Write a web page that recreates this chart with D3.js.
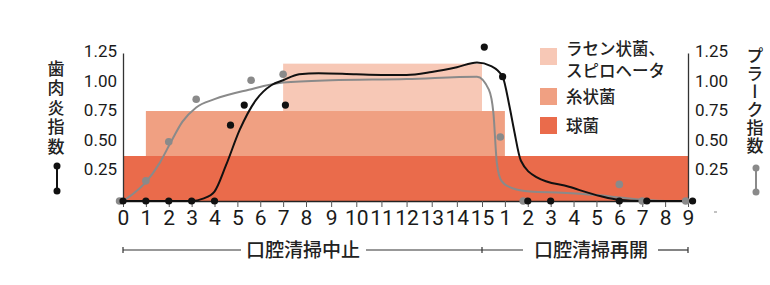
<!DOCTYPE html>
<html>
<head>
<meta charset="utf-8">
<script src="https://cdn.jsdelivr.net/npm/d3@7"></script>
<style>
  body { margin: 0; background: #fff; }
  svg { display: block; }
  .num { font-family: "Liberation Sans Narrow", "Roboto", sans-serif; }
  .jp { font-family: "Noto Sans CJK JP", sans-serif; font-weight: 500; }
</style>
</head>
<body>
<svg width="770" height="285"></svg>
<script>
// tick labels along the bottom: 0..15 weeks of no cleaning, then 1..9 after restart
var xTickLabels = ["0","1","2","3","4","5","6","7","8","9","10","11","12","13","14","15",
  "1","2","3","4","5","6","7","8","9"];
var yTicks = [0.25, 0.5, 0.75, 1.0, 1.25];

// bacteria bands: [start index, end index, level]
var bandNames = ["球菌", "糸状菌", "ラセン状菌、スピロヘータ"];
var bandRanges = [[0, 24, 0.38], [1, 16, 0.76], [7, 15, 1.16]];
var bandColors = ["#ea6b4b", "#f0a082", "#f7c8b6"];

// 歯肉炎指数 (black) observed points
var gingivaPts = [[0,0],[1,0],[2,0],[3,0],[4,0],[4.7,0.64],[5.3,0.81],[7.1,0.81],
  [15.1,1.30],[15.9,1.05],[17,0],[18,0],[21,0],[22.2,0],[24.2,0]];
// 歯肉炎指数 fitted curve
var gingivaCurve = [[0,0],[3,0],[3.5,0.02],[4,0.08],[4.5,0.3],[5.1,0.6],[5.8,0.85],
  [6.5,0.98],[7,1.02],[7.7,1.07],[8.5,1.08],[10,1.07],[11,1.065],[12,1.065],[13,1.09],
  [14,1.13],[14.8,1.17],[15.4,1.14],[15.9,1.05],[16.2,0.8],[16.4,0.6],[16.7,0.34],
  [17.4,0.2],[18.8,0.12],[20.2,0.04],[21,0.01],[22,0],[24.2,0]];

// プラーク指数 (gray) observed points
var plaquePts = [[-0.15,0],[1,0.17],[2,0.5],[3.2,0.86],[5.6,1.02],[7,1.07],
  [15.8,0.54],[16.8,0],[21,0.14],[22,0],[23.9,0]];
// プラーク指数 fitted curve
var plaqueCurve = [[0,0],[0.5,0.07],[1,0.16],[1.6,0.32],[2.1,0.5],[2.6,0.67],[3.2,0.79],
  [4,0.86],[5.5,0.94],[7,1.0],[9,1.02],[12,1.03],[14.8,1.05],[15.3,0.94],[15.5,0.74],
  [15.65,0.32],[15.85,0.17],[16.3,0.11],[17.1,0.08],[18.5,0.07],[20,0.05],[21,0.03],
  [22,0.01],[23,0]];

var svg = d3.select("svg");

var x = d3.scaleLinear().domain([0, 8, 15, 24]).range([123, 306, 482, 688]);
var y = d3.scaleLinear().domain([0, 1.25]).range([201, 53]);

// bands: tallest first so the lower ones sit on top
svg.append("g").selectAll("rect")
  .data(bandRanges.map((d, i) => ({ r: d, c: bandColors[i] })).reverse())
  .enter()
  .append("rect")
  .attr("x", (d) => x(d.r[0]))
  .attr("width", (d) => x(d.r[1]) - x(d.r[0]))
  .attr("y", (d) => y(d.r[2]))
  .attr("height", (d) => y(0) - y(d.r[2]))
  .attr("fill", (d) => d.c);

// axes
var leftAxis = svg.append("g")
  .attr("transform", "translate(" + x(0) + ",0)")
  .call(d3.axisLeft(y).tickValues(yTicks).tickSize(0).tickPadding(6)
    .tickFormat(d3.format(".2f")));
var rightAxis = svg.append("g")
  .attr("transform", "translate(" + x(24) + ",0)")
  .call(d3.axisRight(y).tickValues(yTicks).tickSize(0).tickPadding(7)
    .tickFormat(d3.format(".2f")));
[leftAxis, rightAxis].forEach((a) => {
  a.select(".domain").attr("stroke", "#333").attr("stroke-width", 1.3);
  a.selectAll("text").attr("class", "num").attr("font-size", 17).attr("fill", "#1a1a1a")
    .attr("dy", "0.2em");
});

var bottomAxis = svg.append("g")
  .attr("transform", "translate(0," + y(0) + ")")
  .call(d3.axisBottom(x).tickValues(d3.range(0, 25)).tickSizeInner(6).tickSizeOuter(0)
    .tickPadding(3).tickFormat((d) => xTickLabels[d]));
bottomAxis.select(".domain").attr("stroke", "#222").attr("stroke-width", 1.3);
bottomAxis.selectAll(".tick line").attr("stroke", "#555");
bottomAxis.selectAll("text").attr("class", "num").attr("font-size", 21).attr("fill", "#1a1a1a");

// curves
var line = d3.line().x((d) => x(d[0])).y((d) => y(d[1])).curve(d3.curveMonotoneX);
svg.append("path").datum(plaqueCurve).attr("d", line)
  .attr("fill", "none").attr("stroke", "#8a8a8a").attr("stroke-width", 2);
svg.append("path").datum(gingivaCurve).attr("d", line)
  .attr("fill", "none").attr("stroke", "#111").attr("stroke-width", 2);

// points
svg.append("g").selectAll("circle").data(plaquePts).enter().append("circle")
  .attr("cx", (d) => x(d[0])).attr("cy", (d) => y(d[1])).attr("r", 3.8)
  .attr("fill", "#8a8a8a");
svg.append("g").selectAll("circle").data(gingivaPts).enter().append("circle")
  .attr("cx", (d) => x(d[0])).attr("cy", (d) => y(d[1])).attr("r", 3.6)
  .attr("fill", "#111");

// legend
var legend = svg.append("g").attr("transform", "translate(540,0)");
var legendRows = [
  { c: bandColors[2], y: 48, lines: ["ラセン状菌、", "スピロヘータ"] },
  { c: bandColors[1], y: 88, lines: ["糸状菌"] },
  { c: bandColors[0], y: 117, lines: ["球菌"] },
];
legendRows.forEach((r) => {
  legend.append("rect").attr("x", 0).attr("y", r.y).attr("width", 17).attr("height", 17)
    .attr("fill", r.c);
  r.lines.forEach((t, i) => {
    legend.append("text").attr("class", "jp").attr("x", 26)
      .attr("y", (r.lines.length > 1 ? r.y + 7 : r.y + 15) + i * 22)
      .attr("font-size", 16.5).attr("fill", "#222").text(t);
  });
});

// vertical axis titles
svg.append("text").attr("class", "jp")
  .attr("x", 56).attr("y", 60)
  .style("writing-mode", "vertical-rl").style("letter-spacing", "2.5px")
  .attr("font-size", 17).attr("fill", "#222").text("歯肉炎指数");
svg.append("text").attr("class", "jp")
  .attr("x", 755).attr("y", 47)
  .style("writing-mode", "vertical-rl").style("letter-spacing", "1px")
  .attr("font-size", 17).attr("fill", "#222").text("プラーク指数");

// dumbbell markers
function dumbbell(cx, y1, y2, col) {
  svg.append("line").attr("x1", cx).attr("x2", cx).attr("y1", y1).attr("y2", y2)
    .attr("stroke", col).attr("stroke-width", 2);
  svg.append("circle").attr("cx", cx).attr("cy", y1).attr("r", 3.5).attr("fill", col);
  svg.append("circle").attr("cx", cx).attr("cy", y2).attr("r", 3.5).attr("fill", col);
}
dumbbell(57, 166, 191, "#111");
dumbbell(756, 168, 192, "#8a8a8a");

// period bracket
var by = 250;
var br = svg.append("g").attr("stroke", "#333").attr("stroke-width", 1.2);
[[x(0), 241], [366, 523], [658, x(24)]].forEach((s) => {
  br.append("line").attr("x1", s[0]).attr("x2", s[1]).attr("y1", by).attr("y2", by);
});
[x(0), x(15), x(24)].forEach((t) => {
  br.append("line").attr("x1", t).attr("x2", t).attr("y1", by - 3).attr("y2", by + 3);
});
svg.append("text").attr("class", "jp").attr("x", 303).attr("y", by + 7)
  .attr("text-anchor", "middle").attr("font-size", 19)
  .attr("fill", "#222").text("口腔清掃中止");
svg.append("text").attr("class", "jp").attr("x", 591).attr("y", by + 7)
  .attr("text-anchor", "middle").attr("font-size", 19)
  .attr("fill", "#222").text("口腔清掃再開");

// stray small mark at lower right
svg.append("line").attr("x1", 714).attr("x2", 717).attr("y1", 212).attr("y2", 212)
  .attr("stroke", "#999").attr("stroke-width", 1.2);
</script>
</body>
</html>
